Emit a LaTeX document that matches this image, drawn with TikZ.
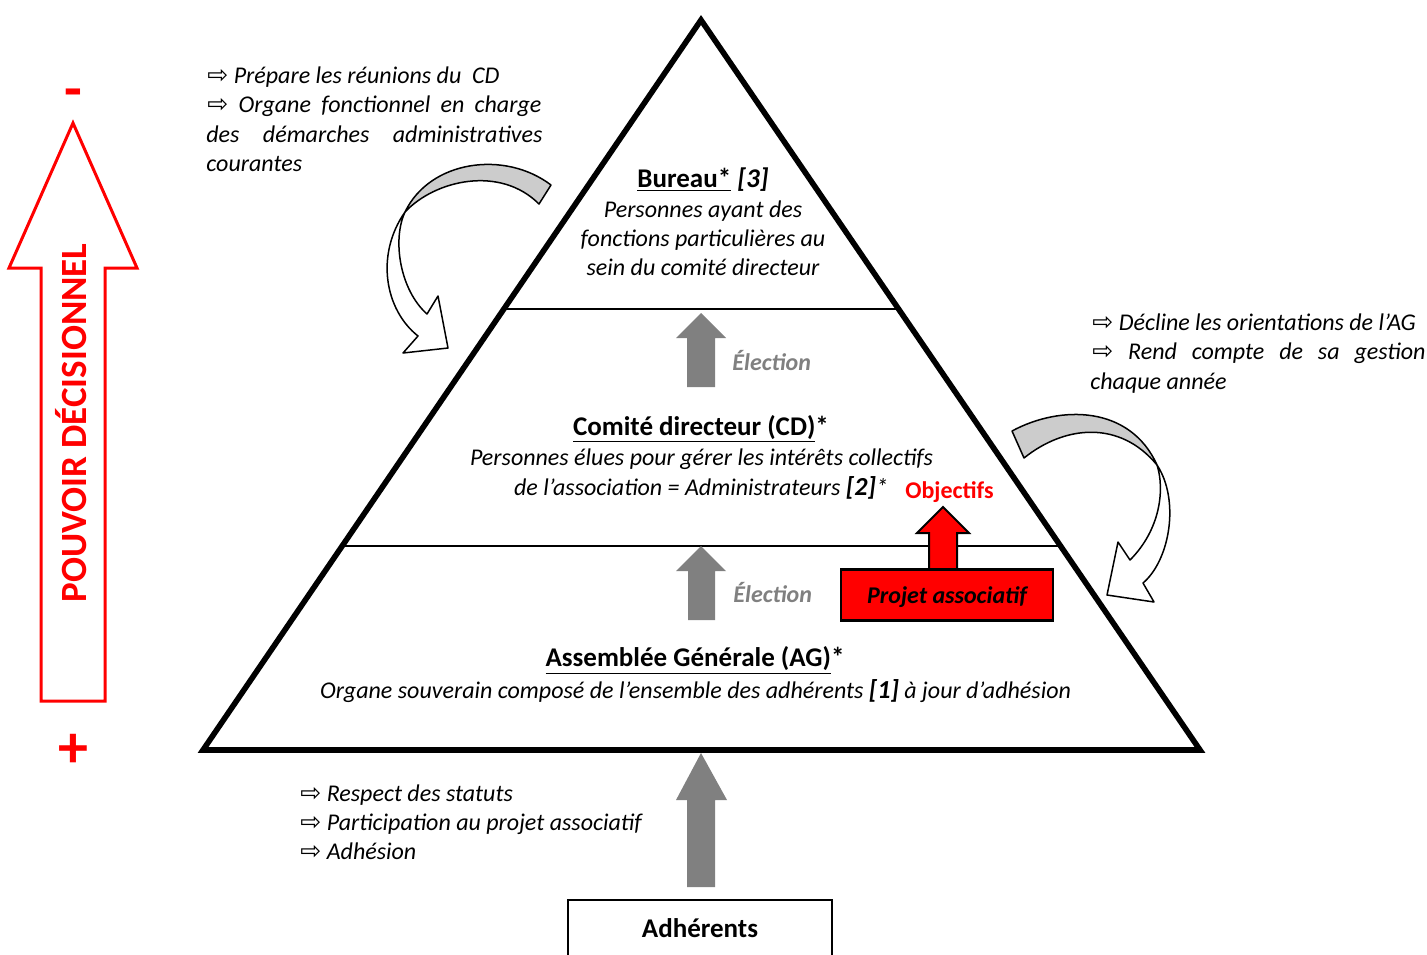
\documentclass[tikz,border=0pt]{standalone}
\usepackage{fontspec}
\setmainfont{Carlito}
\newfontfamily\dejavu{DejaVu Sans}
\usetikzlibrary{calc}
\definecolor{pred}{RGB}{255,0,0}
\definecolor{egray}{RGB}{128,128,128}
\definecolor{lgray}{RGB}{204,204,204}
\newcommand\warr{{\dejavu\fontsize{12.5}{14}\selectfont ⇨}}
\begin{document}
\begin{tikzpicture}[x=0.5pt,y=-0.5pt,
  txt/.style={font=\fontsize{12}{14.5}\selectfont, inner sep=0pt, anchor=base},
  itxt/.style={txt, font=\fontsize{12}{14.5}\selectfont\itshape},
  lefttxt/.style={itxt, anchor=base west},
  head/.style={txt, font=\fontsize{13.5}{16}\selectfont\bfseries},
  elect/.style={txt, anchor=base west, text=egray, font=\fontsize{12}{14.5}\selectfont\bfseries\itshape},
  blockarrow/.style={fill=egray},
  curv/.style={draw=black, line width=0.75pt, line join=round},
  thinline/.style={line width=1pt},
]
\useasboundingbox (0,0) rectangle (1427,954);

% ---------- pyramid ----------
\coordinate (apex) at (701,20);
\coordinate (bl) at (203,750);
\coordinate (br) at (1200,750);
\draw[thinline] ($(apex)!0.39589!(bl)$) -- ($(apex)!0.39589!(br)$);
\draw[thinline] ($(apex)!0.72055!(bl)$) -- ($(apex)!0.72055!(br)$);
\draw[line width=2.8pt] (apex) -- (br) -- (bl) -- cycle;

% ---------- election arrows ----------
\fill[blockarrow] (701,313) -- (726,338) -- (715,338) -- (715,387) -- (687,387) -- (687,338) -- (676,338) -- cycle;
\fill[blockarrow] (701,546) -- (726,571) -- (715,571) -- (715,620) -- (688,620) -- (688,571) -- (676,571) -- cycle;
\node[elect] (el1) at (732,370) {Élection};
\node[elect] (el2) at (733,602) {Élection};

% ---------- Bureau ----------
\node[head] (bur) at (703,187) {\underline{Bureau*} \textit{[3]}};
\node[itxt] (bur1) at (703,217) {Personnes ayant des};
\node[itxt] (bur2) at (703,246) {fonctions particulières au};
\node[itxt] (bur3) at (703,275) {sein du comité directeur};

% ---------- CD ----------
\node[head] (cd) at (701,435) {\underline{Comité directeur (CD)}*};
\node[itxt] (cd1) at (701.5,465) {Personnes élues pour gérer les intérêts collectifs};
\node[itxt] (cd2) at (701,495) {de l’association = Administrateurs {\fontsize{13}{16}\selectfont\bfseries\itshape [2]}*};

% ---------- Objectifs / projet ----------
\node[txt, text=pred, font=\fontsize{12}{14.5}\selectfont\bfseries] (obj) at (949.5,498) {Objectifs};
\filldraw[fill=pred, draw=black, line width=1pt] (943,507) -- (969,533) -- (957,533) -- (957,570) -- (929,570) -- (929,533) -- (917,533) -- cycle;
\node[draw=black, fill=pred, line width=1.3pt, minimum width=106pt, minimum height=25.5pt, inner sep=0pt] (projbox) at (947,595) {};
\node[txt, font=\fontsize{12}{14.5}\selectfont\bfseries\itshape] (proj) at (947,603) {Projet associatif};

% ---------- AG ----------
\node[head] (ag) at (695,666) {\underline{Assemblée Générale (AG)}*};
\node[itxt] (ag1) at (695.5,698) {Organe souverain composé de l’ensemble des adhérents {\fontsize{13}{16}\selectfont\bfseries\itshape [1]} à jour d’adhésion};

% ---------- Adherents ----------
\draw[line width=1pt] (568,962) -- (568,900) -- (832,900) -- (832,962);
\node[head] (adh) at (700,937) {Adhérents};
\fill[blockarrow] (701,753) -- (727,800) -- (715,800) -- (715,887) -- (687,887) -- (687,800) -- (676,800) -- cycle;

\node[lefttxt] (b1) at (300,801) {\warr\ Respect des statuts};
\node[lefttxt] (b2) at (300,830) {\warr\ Participation au projet associatif};
\node[lefttxt] (b3) at (300,859) {\warr\ Adhésion};

% ---------- top-left text ----------
\node[lefttxt] (tl1) at (207,83) {\warr\ Prépare les réunions du\ \ CD};
\node[lefttxt] (tl2) at (207,112.5) {\makebox[167pt][s]{\warr\ Organe fonctionnel en charge}};
\node[lefttxt] (tl3) at (206,142) {\makebox[168pt][s]{des démarches administratives}};
\node[lefttxt] (tl4) at (206,171.5) {courantes};

% ---------- right text ----------
\node[lefttxt] (tr1) at (1092,330) {\warr\ Décline les orientations de l’AG};
\node[lefttxt] (tr2) at (1092,359) {\makebox[166.5pt][s]{\warr\ Rend compte de sa gestion}};
\node[lefttxt] (tr3) at (1090,389) {chaque année};

% ---------- curved arrows ----------
\filldraw[curv, fill=lgray] (551,185) .. controls (505,150) and (430,160) .. (405,212) .. controls (435,180) and (500,165) .. (539,204) -- cycle;
\filldraw[curv, fill=white] (405,212) .. controls (375,255) and (385,310) .. (418,336) -- (403,353) -- (448,348) -- (438,296) -- (427,314) .. controls (400,290) and (392,240) .. (405,212) -- cycle;

\filldraw[curv, fill=lgray] (1012,431) .. controls (1060,405) and (1130,405) .. (1157,465) .. controls (1120,420) and (1065,425) .. (1024,458) -- cycle;
\filldraw[curv, fill=white] (1157,465) .. controls (1180,500) and (1170,560) .. (1143,583) -- (1154,602) -- (1107,595) -- (1118,542) -- (1130,560) .. controls (1160,530) and (1165,490) .. (1157,465) -- cycle;

% ---------- pouvoir decisionnel ----------
\draw[pred, line width=1.5pt, line join=miter] (73,123) -- (137,268) -- (105,268) -- (105,701) -- (41,701) -- (41,268) -- (9,268) -- cycle;
\node[txt, anchor=center, rotate=90, text=pred, font=\fontsize{18.5}{20}\selectfont\bfseries] (pouv) at (71,423) {POUVOIR DÉCISIONNEL};
\node[txt, text=pred, font=\fontsize{29}{30}\selectfont\bfseries] (moins) at (73,108) {-};
\node[txt, text=pred, font=\fontsize{30}{30}\selectfont\bfseries] (plus) at (73,767) {+};
\end{tikzpicture}
\end{document}
